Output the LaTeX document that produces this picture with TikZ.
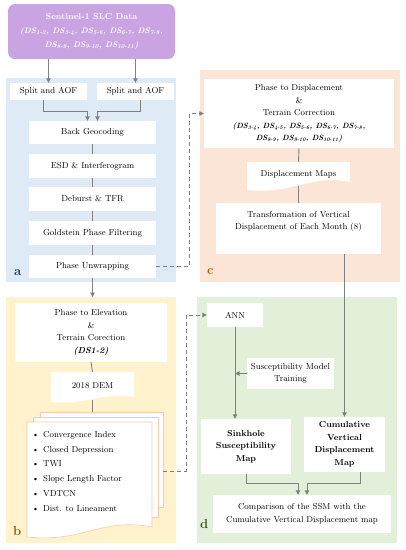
\documentclass[tikz,border=0pt]{standalone}
\usepackage{tikz}
\usetikzlibrary{arrows.meta}
\usepackage{xcolor}

\definecolor{lavender}{RGB}{201,163,226}
\definecolor{panelblue}{RGB}{222,234,246}
\definecolor{panelpeach}{RGB}{251,229,214}
\definecolor{panelyellow}{RGB}{255,242,204}
\definecolor{panelgreen}{RGB}{226,240,217}
\definecolor{linegray}{RGB}{128,128,128}
\definecolor{sheetline}{RGB}{248,203,173}
\definecolor{taga}{RGB}{32,56,100}
\definecolor{tagb}{RGB}{127,96,0}
\definecolor{tagc}{RGB}{197,90,17}
\definecolor{tagd}{RGB}{56,87,35}

\pgfdeclarelayer{panels}
\pgfdeclarelayer{sheets}
\pgfsetlayers{panels,sheets,main}

\newcommand{\ds}[1]{DS\textsubscript{#1}}
% white sheet with a wavy lower edge: x1, y1, x2, y2, wave
\newcommand{\docsheet}[6][]{%
  \path[fill=white,#1] (#2,#3) -- (#4,#3) -- (#4,{#5-#6})
    .. controls ({#4-0.4*(#4-#2)},{#5-2*#6}) and ({#2+0.45*(#4-#2)},{#5+0.6*#6}) .. (#2,#5) -- cycle;}

\begin{document}
\begin{tikzpicture}[x=1pt,y=-1pt,
    every node/.style={font=\fontsize{8.6}{12.5}\selectfont},
    box/.style={fill=white, align=center, inner sep=1pt},
    panel/.style={anchor=north west, inner sep=0pt},
    link/.style={draw=linegray, line width=0.9pt},
    arr/.style={link, -{Triangle[width=4.5pt,length=4.5pt]}},
    dashlink/.style={arr, dash pattern=on 4pt off 3pt},
    tag/.style={font=\fontsize{13}{13}\selectfont\bfseries, anchor=base west, inner sep=0pt}]
    % Fixed Bounding Box
    \useasboundingbox (0,0) rectangle (406,550);

    % Panels
    \begin{pgfonlayer}{panels}
        \node[panel, fill=panelblue, minimum width=170, minimum height=204] (pa) at (6,78) {};
        \node[panel, fill=panelpeach, minimum width=200, minimum height=212] (pc) at (200,70) {};
        \node[panel, fill=panelyellow, minimum width=170, minimum height=246] (pb) at (6,297) {};
        \node[panel, fill=panelgreen, minimum width=200, minimum height=246] (pd) at (197,297) {};
    \end{pgfonlayer}

    % Sheets with wavy edges
    \begin{pgfonlayer}{sheets}
        \docsheet{247}{162}{350}{190}{8}
        \docsheet{51}{372}{134}{402}{5}
        \path[fill=white, draw=sheetline, line width=0.6pt] (40,412) rectangle (163,507);
        \path[fill=white, draw=sheetline, line width=0.6pt] (33,417) rectangle (158,517);
        \docsheet[draw=sheetline, line width=0.6pt]{27}{422}{152}{537}{10}
    \end{pgfonlayer}
    \coordinate (sheettop) at (90,412);
    \coordinate (sheetright) at (163,471);

    % Input data
    \node[box, fill=lavender, text=white, rounded corners=7pt, minimum width=167, minimum height=55,
          font=\fontsize{8}{14}\selectfont] (sent) at (91.5,31.5)
        {\textbf{\fontsize{8.6}{14}\selectfont Sentinel-1 SLC Data}\\
         \textbf{\textit{(\ds{1-2}, \ds{3-4}, \ds{5-6}, \ds{6-7}, \ds{7-8},}}\\
         \textbf{\textit{\ds{8-9}, \ds{9-10}, \ds{10-11})}}};

    % Panel a
    \node[box, minimum width=77, minimum height=17] (split1) at (48.5,91.5) {Split and AOF};
    \node[box, minimum width=77, minimum height=17] (split2) at (135.5,91.5) {Split and AOF};
    \node[box, minimum width=127, minimum height=23] (geo) at (92.5,132.5) {Back Geocoding};
    \node[box, minimum width=127, minimum height=24] (esd) at (92.5,166) {ESD \& Interferogram};
    \node[box, minimum width=127, minimum height=24] (deb) at (92.5,199) {Deburst \& TFR};
    \node[box, minimum width=127, minimum height=24] (gold) at (92.5,233) {Goldstein Phase Filtering};
    \node[box, minimum width=127, minimum height=23] (unw) at (92.5,266.5) {Phase Unwrapping};
    \node[tag, text=taga] at (14,275) {a};

    % Panel c
    \node[box, minimum width=190, minimum height=69] (disp) at (299,113.5)
        {Phase to Displacement\\ \&\\ Terrain Correction\\
         \textbf{\textit{\fontsize{7.6}{12.5}\selectfont(\ds{3-4}, \ds{4-5}, \ds{5-6}, \ds{6-7}, \ds{7-8},}}\\
         \textbf{\textit{\fontsize{7.6}{12.5}\selectfont\ds{8-9}, \ds{9-10}, \ds{10-11})}}};
    \node[align=center, minimum width=103, minimum height=24, inner sep=1pt] (dmap) at (298.5,174) {Displacement Maps};
    \node[box, minimum width=165, minimum height=51, text depth=16pt] (trans) at (298.5,228.5)
        {Transformation of Vertical\\ Displacement of Each Month (8)};
    \node[tag, text=tagc] at (207,274) {c};

    % Panel b
    \node[box, minimum width=152, minimum height=59] (elev) at (91,332.5)
        {Phase to Elevation\\ \&\\ Terrain Corection\\ \textbf{\textit{(DS1-2)}}};
    \node[align=center, minimum width=83, minimum height=28, inner sep=1pt] (dem) at (92.5,386) {2018 DEM};
    \node[anchor=north west, align=left, inner sep=1pt, font=\fontsize{8.6}{14.8}\selectfont] (feat) at (31,430)
        {\makebox[11pt][l]{\textbullet}Convergence Index\\
         \makebox[11pt][l]{\textbullet}Closed Depression\\
         \makebox[11pt][l]{\textbullet}TWI\\
         \makebox[11pt][l]{\textbullet}Slope Length Factor\\
         \makebox[11pt][l]{\textbullet}VDTCN\\
         \makebox[11pt][l]{\textbullet}Dist. to Lineament};
    \node[tag, text=tagb] at (13,535) {b};

    % Panel d
    \node[box, minimum width=56, minimum height=24] (ann) at (235,315) {ANN};
    \node[box, minimum width=87, minimum height=31] (smt) at (290.5,373.5) {Susceptibility Model\\ Training};
    \node[box, minimum width=90, minimum height=55] (sink) at (246,446.5)
        {\textbf{Sinkhole}\\ \textbf{Susceptibility}\\ \textbf{Map}};
    \node[box, minimum width=81, minimum height=55] (cum) at (344.5,444.5)
        {\textbf{Cumulative}\\ \textbf{Vertical}\\ \textbf{Displacement}\\ \textbf{Map}};
    \node[box, minimum width=178, minimum height=38, font=\fontsize{8.6}{13.5}\selectfont] (comp) at (302,514)
        {Comparison of the SSM with the\\ Cumulative Vertical Displacement map};
    \node[tag, text=tagd] at (200,528) {d};

    % Connectors
    \draw[arr] (sent.south -| split1.north) -- (split1.north);
    \draw[arr] (sent.south -| split2.north) -- (split2.north);
    \draw[arr] ([xshift=-5]split1.south) -- ++(0,11) -| ([xshift=-5]geo.north);
    \draw[arr] ([xshift=5]split2.south) -- ++(0,11) -| ([xshift=5]geo.north);
    \draw[link] (geo.south) -- (esd.north);
    \draw[link] (esd.south) -- (deb.north);
    \draw[link] (deb.south) -- (gold.north);
    \draw[link] (gold.south) -- (unw.north);
    \draw[dashlink] (unw.east) -- ++(33,0) |- (disp.west);
    \draw[arr] (unw.south) -- (unw.south |- pb.north);

    \draw[link] (disp.south) -- (dmap.north);
    \draw[link] (dmap.south) -- (trans.north);
    \draw[arr] (trans.south -| cum.north) -- (cum.north);

    \draw[link] (elev.south) -- (dem.north);
    \draw[link] (dem.south) -- (dem.south |- sheettop);
    \draw[dashlink] (sheetright) -- ++(23,0) |- (ann.west);

    \draw[arr] (ann.south) -- (ann.south |- sink.north);
    \draw[arr] (smt.west) -- (smt.west -| ann.south);
    \draw[arr] (sink.south) -- ++(0,9) -| ([xshift=-4]comp.north);
    \draw[arr] ([xshift=16]cum.south) -- ++(0,11) -| ([xshift=5]comp.north);
\end{tikzpicture}
\end{document}
